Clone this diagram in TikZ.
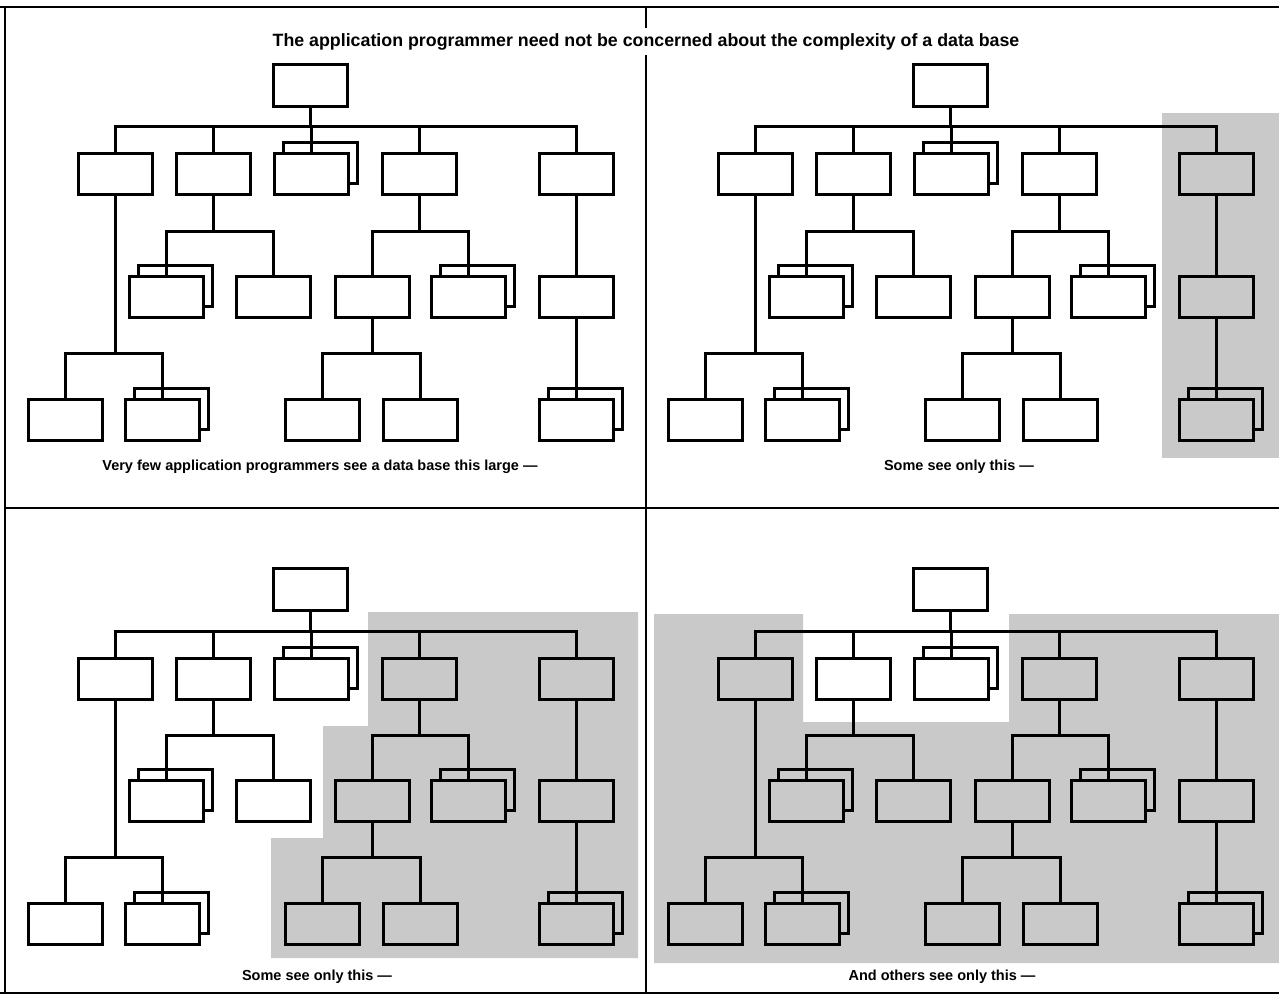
\documentclass[tikz,border=0pt]{standalone}
\usepackage{fontspec}
\setmainfont{Liberation Sans}
\usetikzlibrary{calc}
\definecolor{stipple}{gray}{0.79}
\tikzset{
  rec/.style={draw, line width=3pt, minimum width=74pt, minimum height=41pt,
    inner sep=0pt, outer sep=0pt},
  conn/.style={line width=3pt, line join=miter},
  framing/.style={line width=2pt},
  captext/.style={font=\fontsize{14.5}{17}\selectfont\bfseries, inner sep=0pt},
  titletext/.style={font=\fontsize{17.8}{21}\selectfont\bfseries, inner sep=0pt},
}
% visible outline of the repeated record lying behind a box
\newcommand\backcopy[1]{%
  \draw[conn] ([xshift=9pt]#1.north west) -- ++(0pt,11pt)
    -| ([xshift=9pt,yshift=11pt]#1.south east) -- ([yshift=11pt]#1.south east);}
% one data-base hierarchy; #1 name prefix, (#2,#3) offset
\newcommand\dbtree[3]{%
\begin{scope}[shift={(#2,#3)}]
  \node[rec, minimum height=42pt] (#1R) at (310.5,85.5) {};
  \node[rec] (#1A) at (115,174.5) {};
  \node[rec] (#1B) at (213,174.5) {};
  \node[rec] (#1C) at (311,174.5) {};
  \node[rec] (#1D) at (419.5,174.5) {};
  \node[rec] (#1E) at (576,174.5) {};
  \node[rec] (#1B1) at (166,296.5) {};
  \node[rec] (#1B2) at (273.5,296.5) {};
  \node[rec] (#1D1) at (372.5,296.5) {};
  \node[rec] (#1D2) at (468.5,296.5) {};
  \node[rec] (#1E1) at (576,296.5) {};
  \node[rec] (#1A1) at (65,420) {};
  \node[rec] (#1A2) at (162.5,420) {};
  \node[rec] (#1Da) at (322,420) {};
  \node[rec] (#1Db) at (420.5,420) {};
  \node[rec] (#1Ea) at (576,420) {};
  \coordinate (#1busR) at (0,127);
  \coordinate (#1busB) at (0,231);
  \coordinate (#1busA) at (0,353);
  \backcopy{#1C}\backcopy{#1B1}\backcopy{#1D2}\backcopy{#1A2}\backcopy{#1Ea}
  % root to first level
  \draw[conn] (#1R.south) -- (#1R.south |- #1busR);
  \draw[conn] (#1A.north) |- (#1E.north |- #1busR) -- (#1E.north);
  \draw[conn] (#1B.north) -- (#1B.north |- #1busR);
  \draw[conn] (#1C.north) -- (#1C.north |- #1busR);
  \draw[conn] (#1D.north) -- (#1D.north |- #1busR);
  % second level
  \draw[conn] (#1B.south) -- (#1B.south |- #1busB);
  \draw[conn] (#1B1.north) |- (#1B2.north |- #1busB) -- (#1B2.north);
  \draw[conn] (#1D.south) -- (#1D.south |- #1busB);
  \draw[conn] (#1D1.north) |- (#1D2.north |- #1busB) -- (#1D2.north);
  \draw[conn] (#1E.south) -- (#1E1.north);
  % third level
  \draw[conn] (#1A.south) -- (#1A.south |- #1busA);
  \draw[conn] (#1A1.north) |- (#1A2.north |- #1busA) -- (#1A2.north);
  \draw[conn] (#1D1.south) -- (#1D1.south |- #1busA);
  \draw[conn] (#1Da.north) |- (#1Db.north |- #1busA) -- (#1Db.north);
  \draw[conn] (#1E1.south) -- (#1Ea.north);
\end{scope}}

\begin{document}
\begin{tikzpicture}[x=1pt, y=-1pt]
  \useasboundingbox (0,0) rectangle (1279,995);
  % shaded views
  \fill[stipple] (1162,113) rectangle (1279,458);
  \fill[stipple] (368,612) -- (638,612) -- (638,958) -- (271,958) -- (271,838)
    -- (323,838) -- (323,726) -- (368,726) -- cycle;
  \fill[stipple] (654,614) -- (803,614) -- (803,722) -- (1009,722) -- (1009,614)
    -- (1279,614) -- (1279,963) -- (654,963) -- cycle;
  % frame
  \draw[framing] (0,7) -- (1279,7);
  \draw[framing] (5,7) -- (5,993);
  \draw[framing] (0,993) -- (1279,993);
  \draw[framing] (5,508) -- (1279,508);
  \draw[framing] (646,7) -- (646,28);
  \draw[framing] (646,55) -- (646,993);
  % the four hierarchies
  \dbtree{tl}{0}{0}
  \dbtree{tr}{640}{0}
  \dbtree{bl}{0}{504}
  \dbtree{br}{640}{504}
  % texts
  \node[titletext] (title) at (646,42) {The application programmer need not be concerned about the complexity of a data base};
  \node[captext] (captl) at (320,467) {Very few application programmers see a data base this large ---};
  \node[captext] (captr) at (959,467) {Some see only this ---};
  \node[captext] (capbl) at (317,977) {Some see only this ---};
  \node[captext] (capbr) at (942,977) {And others see only this ---};
\end{tikzpicture}
\end{document}
